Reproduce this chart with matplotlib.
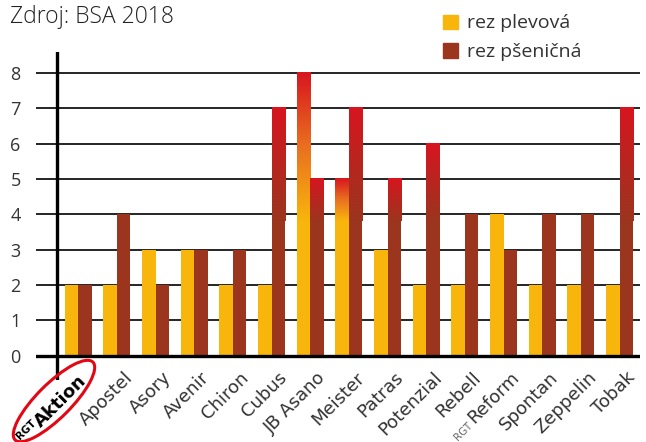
import numpy as np
import matplotlib.pyplot as plt
from matplotlib.colors import LinearSegmentedColormap
from matplotlib.patches import Ellipse, Patch
import matplotlib.transforms as mtransforms

plt.rcParams['font.family'] = ['Open Sans', 'DejaVu Sans']

# data
odrudy = ['Aktion', 'Apostel', 'Asory', 'Avenir', 'Chiron', 'Cubus', 'JB Asano',
          'Meister', 'Patras', 'Potenzial', 'Rebell', 'Reform', 'Spontan',
          'Zeppelin', 'Tobak']
rez_plevova = [2, 2, 3, 3, 2, 2, 8, 5, 3, 2, 2, 4, 2, 2, 2]
rez_psenicna = [2, 4, 2, 3, 3, 7, 5, 7, 5, 6, 4, 3, 4, 4, 7]
osa_y = [0, 1, 2, 3, 4, 5, 6, 7, 8]

zluta = '#f8b50c'
hneda = '#9b351e'
cervena = '#d7151f'
oranzova = '#ea7020'
seda = '#333333'

W, H = 646, 442
fig = plt.figure(figsize=(W / 100, H / 100), dpi=100)
ax = fig.add_axes([36 / W, (H - 380.4) / H, (640 - 36) / W, (380.4 - 51.8) / H])

x = np.arange(len(odrudy))
sirka = 0.35

ax.bar(x - sirka / 2, rez_plevova, sirka, color=zluta, zorder=2)
ax.bar(x + sirka / 2, rez_psenicna, sirka, color=hneda, zorder=2)

# prechod do cervene u vysokych sloupcu
cm_zluta = LinearSegmentedColormap.from_list('z', [zluta, oranzova, cervena])
cm_hneda = LinearSegmentedColormap.from_list('h', [hneda, '#b8261f', cervena])
grad = np.linspace(0, 1, 256).reshape(-1, 1)
spodek = 3.8
for i in range(len(odrudy)):
    for hodnota, posun, cm in [(rez_plevova[i], -sirka, cm_zluta),
                               (rez_psenicna[i], 0, cm_hneda)]:
        if hodnota > 4:
            ax.imshow(grad, cmap=cm, origin='lower', aspect='auto',
                      extent=[x[i] + posun, x[i] + posun + sirka, spodek, hodnota],
                      zorder=3, interpolation='bilinear')

ax.set_xlim(-1.094, 14.53)
ax.set_ylim(-0.7, 8.6)

for v in osa_y[1:]:
    ax.axhline(v, color='black', lw=1.2, zorder=1)
ax.axhline(0, color='black', lw=2.4, zorder=4)
ax.axvline(-0.551, color='black', lw=2.4, zorder=4)

for s in ax.spines.values():
    s.set_visible(False)
ax.set_xticks([])
ax.set_yticks(osa_y)
ax.set_yticklabels([str(v) for v in osa_y], fontsize=13, color=seda)
ax.tick_params(axis='y', length=0, pad=11)
ax.set_facecolor('none')

# popisky odrud
fig.canvas.draw()
renderer = fig.canvas.get_renderer()


def delka(text, **kw):
    t = fig.text(0, 0, text, **kw)
    w = t.get_window_extent(renderer).width
    t.remove()
    return w


c = np.cos(np.pi / 4)
for i, nazev in enumerate(odrudy):
    if nazev == 'Aktion':
        styl = dict(fontsize=13, fontweight='bold', color='black', family='DejaVu Sans')
        kx, ky = x[i] - 0.02, -0.44
    else:
        styl = dict(fontsize=13, color=seda, family='DejaVu Sans')
        kx, ky = x[i] + 0.17, -0.37
    ax.text(kx, ky, nazev, rotation=45, ha='right', va='top',
            rotation_mode='anchor', **styl)
    if nazev in ('Aktion', 'Reform'):
        tucne = nazev == 'Aktion'
        styl2 = dict(fontsize=7.5, family='DejaVu Sans',
                     fontweight='bold' if tucne else 'normal',
                     color='black' if tucne else '#666666')
        d = delka(nazev, **styl) + (0 if tucne else 2)
        kolmo = 0 if tucne else 6
        tr = mtransforms.offset_copy(ax.transData, fig=fig,
                                     x=-d * c + kolmo * c, y=-d * c - kolmo * c,
                                     units='dots')
        ax.text(kx, ky, 'RGT', rotation=45, ha='right', va='top',
                rotation_mode='anchor', transform=tr, **styl2)

# cervena elipsa kolem Aktion
elipsa = Ellipse((54, H - 401), 110, 34, angle=45, fill=False, ec='#e30613', lw=2.2,
                 transform=mtransforms.IdentityTransform())
elipsa.set_figure(fig)
fig.patches.append(elipsa)

fig.text(10 / W, 1 - 5 / H, 'Zdroj: BSA 2018', fontsize=16.5, color='#222222',
         va='top', ha='left', fontweight='light')

handles = [Patch(color=zluta), Patch(color=hneda)]
fig.legend(handles, ['rez plevová', 'rez pšeničná'], loc='upper left',
           bbox_to_anchor=(426 / W, 1 + 3 / H), frameon=False, fontsize=14,
           handlelength=0.75, handleheight=0.75, handletextpad=0.45,
           labelspacing=0.55, labelcolor=seda)

fig.savefig('out.png', dpi=100)
